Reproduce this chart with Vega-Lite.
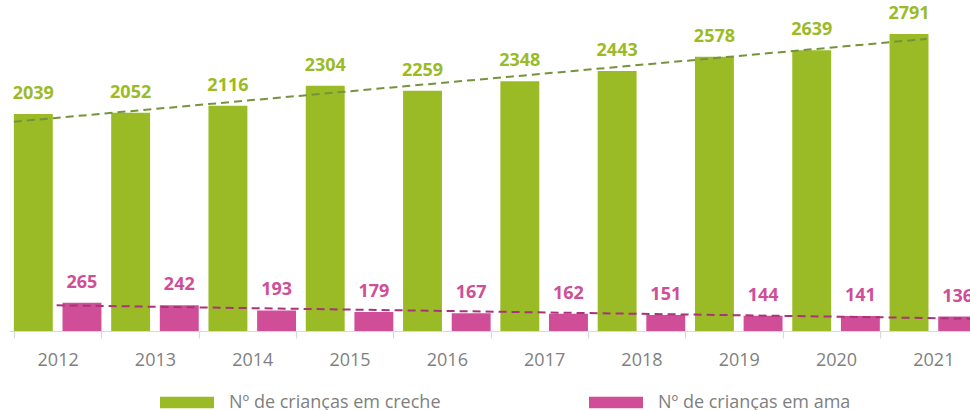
{
  "$schema": "https://vega.github.io/schema/vega-lite/v6.json",
  "width": 961,
  "height": 331,
  "autosize": {"type": "none"},
  "padding": {"left": 9, "top": 0, "right": 0, "bottom": 79},
  "background": "white",
  "config": {
    "view": {"stroke": null},
    "font": "Open Sans"
  },
  "data": {
    "values": [
      {"year": 2012, "series": "Nº de crianças em creche", "value": 2039},
      {"year": 2013, "series": "Nº de crianças em creche", "value": 2052},
      {"year": 2014, "series": "Nº de crianças em creche", "value": 2116},
      {"year": 2015, "series": "Nº de crianças em creche", "value": 2304},
      {"year": 2016, "series": "Nº de crianças em creche", "value": 2259},
      {"year": 2017, "series": "Nº de crianças em creche", "value": 2348},
      {"year": 2018, "series": "Nº de crianças em creche", "value": 2443},
      {"year": 2019, "series": "Nº de crianças em creche", "value": 2578},
      {"year": 2020, "series": "Nº de crianças em creche", "value": 2639},
      {"year": 2021, "series": "Nº de crianças em creche", "value": 2791},
      {"year": 2012, "series": "Nº de crianças em ama", "value": 265},
      {"year": 2013, "series": "Nº de crianças em ama", "value": 242},
      {"year": 2014, "series": "Nº de crianças em ama", "value": 193},
      {"year": 2015, "series": "Nº de crianças em ama", "value": 179},
      {"year": 2016, "series": "Nº de crianças em ama", "value": 167},
      {"year": 2017, "series": "Nº de crianças em ama", "value": 162},
      {"year": 2018, "series": "Nº de crianças em ama", "value": 151},
      {"year": 2019, "series": "Nº de crianças em ama", "value": 144},
      {"year": 2020, "series": "Nº de crianças em ama", "value": 141},
      {"year": 2021, "series": "Nº de crianças em ama", "value": 136}
    ]
  },
  "resolve": {"scale": {"x": "independent"}},
  "layer": [
    {
      "mark": {"type": "bar", "clip": true},
      "encoding": {
        "x": {
          "field": "year", "type": "ordinal",
          "scale": {"range": [0, 973], "paddingInner": 0.1, "paddingOuter": 0.05},
          "axis": {
            "title": null, "labelAngle": 0, "labelFontSize": 18, "labelColor": "#7F7F7F",
            "labelFont": "Open Sans", "domainColor": "#D9D9D9", "domainWidth": 1.2,
            "tickColor": "#D9D9D9", "tickSize": 7, "tickWidth": 1.2, "tickBand": "extent",
            "labelPadding": 13, "grid": false
          }
        },
        "xOffset": {
          "field": "series", "type": "nominal",
          "sort": ["Nº de crianças em creche", "Nº de crianças em ama"],
          "scale": {"paddingInner": 0.2, "paddingOuter": 0}
        },
        "y": {
          "field": "value", "type": "quantitative",
          "scale": {"domain": [0, 3111], "nice": false},
          "axis": null
        },
        "color": {
          "field": "series", "type": "nominal",
          "scale": {
            "domain": ["Nº de crianças em creche", "Nº de crianças em ama"],
            "range": ["#9BBB26", "#D04E97"]
          },
          "legend": {
            "title": null, "orient": "none", "legendX": 151, "legendY": 375.5,
            "direction": "horizontal",
            "symbolType": "M-1,-0.211H1V0.211H-1Z", "symbolSize": 2916,
            "symbolStrokeWidth": 0,
            "labelFontSize": 18, "labelColor": "#7F7F7F", "labelFont": "Open Sans",
            "labelOffset": 15, "columnPadding": 148, "labelLimit": 400
          }
        }
      }
    },
    {
      "mark": {"type": "text", "fontWeight": "bold", "fontSize": 18, "font": "Open Sans", "baseline": "alphabetic", "dy": -15},
      "encoding": {
        "x": {
          "field": "year", "type": "ordinal",
          "scale": {"range": [0, 973], "paddingInner": 0.1, "paddingOuter": 0.05},
          "axis": null
        },
        "xOffset": {
          "field": "series", "type": "nominal",
          "sort": ["Nº de crianças em creche", "Nº de crianças em ama"],
          "scale": {"paddingInner": 0.2, "paddingOuter": 0}
        },
        "y": {"field": "value", "type": "quantitative"},
        "text": {"field": "value", "type": "quantitative"},
        "color": {"field": "series", "type": "nominal", "legend": null}
      }
    },
    {
      "transform": [
        {"filter": "datum.series === 'Nº de crianças em creche'"},
        {"regression": "value", "on": "year", "extent": [2011.8, 2021.18]}
      ],
      "mark": {"type": "line", "color": "#76923C", "strokeWidth": 2, "strokeDash": [8, 5], "clip": true},
      "encoding": {
        "x": {
          "field": "year", "type": "quantitative",
          "scale": {"domain": [2011.7497, 2021.7497], "range": [0, 973], "nice": false, "zero": false},
          "axis": null
        },
        "y": {"field": "value", "type": "quantitative"}
      }
    },
    {
      "transform": [
        {"filter": "datum.series === 'Nº de crianças em ama'"},
        {"regression": "value", "on": "year", "extent": [2011.74, 2021.3]}
      ],
      "mark": {"type": "line", "color": "#A8337A", "strokeWidth": 2, "strokeDash": [8, 5], "clip": true},
      "encoding": {
        "x": {
          "field": "year", "type": "quantitative",
          "scale": {"domain": [2011.2503, 2021.2503], "range": [0, 973], "nice": false, "zero": false},
          "axis": null
        },
        "y": {"field": "value", "type": "quantitative"}
      }
    }
  ]
}
